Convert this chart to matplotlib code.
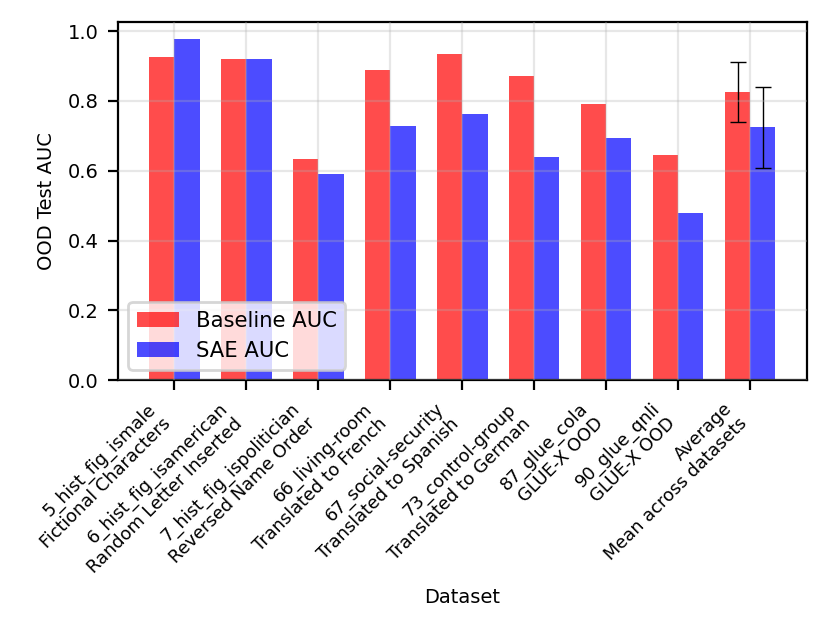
import matplotlib
matplotlib.use("Agg")
import matplotlib.pyplot as plt
import numpy as np

categories = [
    "5_hist_fig_ismale\nFictional Characters",
    "6_hist_fig_isamerican\nRandom Letter Inserted",
    "7_hist_fig_ispolitician\nReversed Name Order",
    "66_living-room\nTranslated to French",
    "67_social-security\nTranslated to Spanish",
    "73_control-group\nTranslated to German",
    "87_glue_cola\nGLUE-X OOD",
    "90_glue_qnli\nGLUE-X OOD",
    "Average\nMean across datasets",
]
baseline_auc = [0.925, 0.920, 0.635, 0.890, 0.935, 0.870, 0.790, 0.645, 0.826]
sae_auc = [0.978, 0.920, 0.590, 0.727, 0.762, 0.638, 0.695, 0.478, 0.724]
baseline_err = [0, 0, 0, 0, 0, 0, 0, 0, 0.085]
sae_err = [0, 0, 0, 0, 0, 0, 0, 0, 0.115]

fig = plt.figure(figsize=(4.15, 3.195), dpi=200)
ax = fig.add_axes([0.142, 0.405, 0.830, 0.561])

x = np.arange(len(categories))
w = 0.35
be = [e if e > 0 else np.nan for e in baseline_err]
se = [e if e > 0 else np.nan for e in sae_err]
ax.bar(x, baseline_auc, w, color="red", alpha=0.7, label="Baseline AUC",
       yerr=be, capsize=3, error_kw=dict(elinewidth=0.5, capthick=0.5, ecolor="black"))
ax.bar(x + w, sae_auc, w, color="blue", alpha=0.7, label="SAE AUC",
       yerr=se, capsize=3, error_kw=dict(elinewidth=0.5, capthick=0.5, ecolor="black"))

ax.set_xticks(x + w / 2)
ax.set_xticklabels(categories, rotation=45, ha="right", fontsize=6.4)
ax.tick_params(axis="y", labelsize=7)
ax.set_xlabel("Dataset", fontsize=7)
ax.set_ylabel("OOD Test AUC", fontsize=7)
ax.grid(True, alpha=0.3)
ax.set_axisbelow(False)
ax.legend(loc="lower left", fontsize=7.6)

fig.savefig("out.png", dpi=200)
